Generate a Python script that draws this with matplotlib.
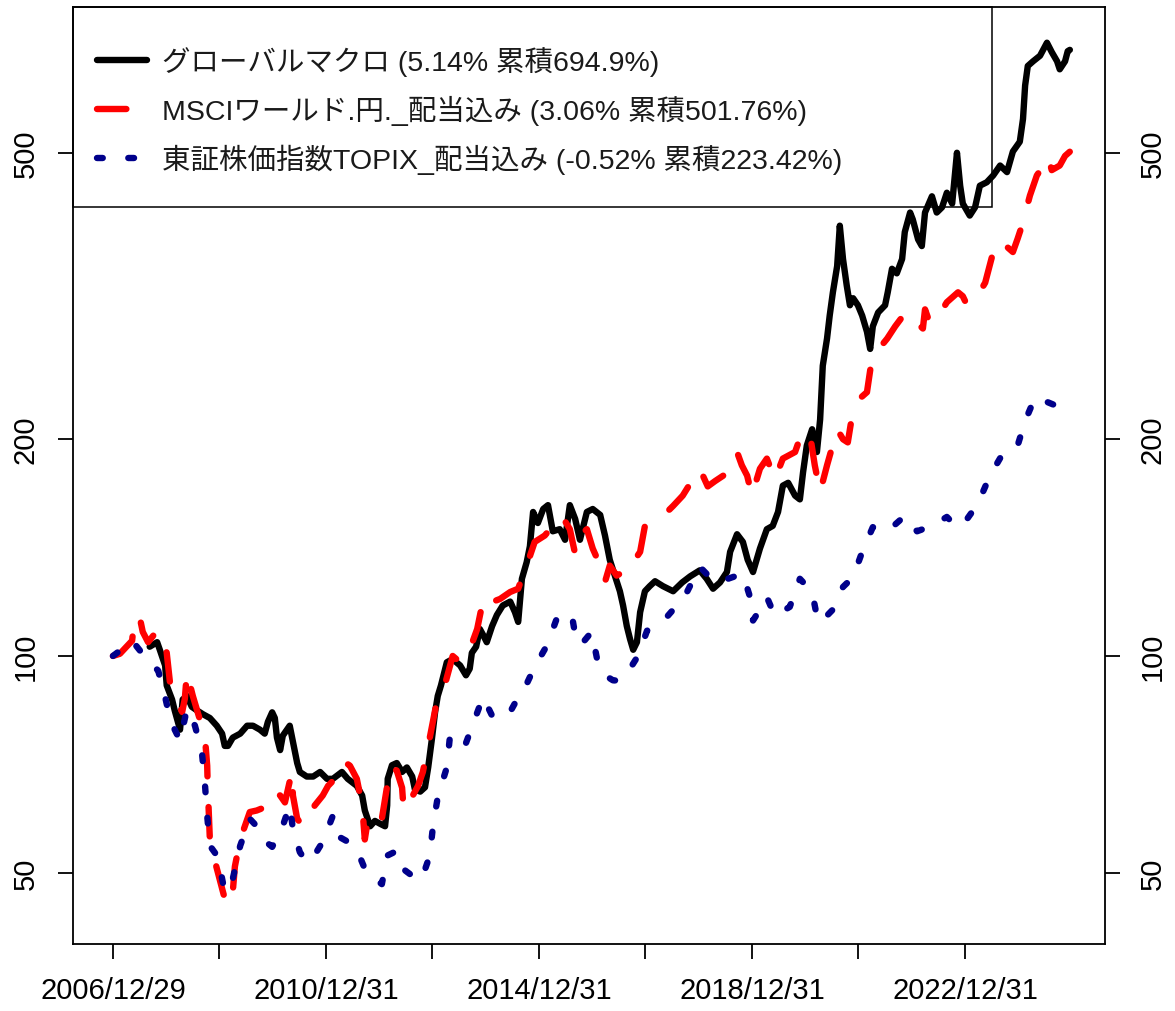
import matplotlib
matplotlib.use('Agg')
import matplotlib.pyplot as plt
from matplotlib.lines import Line2D
from matplotlib.patches import Rectangle
from matplotlib.ticker import NullLocator, NullFormatter

plt.rcParams['font.family'] = ['Liberation Sans', 'Noto Sans CJK JP', 'DejaVu Sans']

# ---------------------------------------------------------------------------
# Data (decimal years, index level with start = 100)
# ---------------------------------------------------------------------------
macro_t = [2007.69, 2007.83, 2007.88, 2007.98, 2008.01, 2008.11, 2008.16, 2008.22, 2008.26,
           2008.31, 2008.39, 2008.48, 2008.58, 2008.69, 2008.82, 2008.95, 2009.05, 2009.10,
           2009.16, 2009.25, 2009.39, 2009.52, 2009.63, 2009.76, 2009.85, 2009.91, 2009.99,
           2010.04, 2010.08, 2010.14, 2010.19, 2010.27, 2010.32, 2010.38, 2010.46, 2010.51,
           2010.64, 2010.76, 2010.89, 2011.02, 2011.13, 2011.30, 2011.41, 2011.58, 2011.68,
           2011.73, 2011.83, 2011.92, 2012.01, 2012.11, 2012.15, 2012.16, 2012.24, 2012.33,
           2012.43, 2012.52, 2012.62, 2012.67, 2012.77, 2012.86, 2012.92, 2012.99, 2013.05,
           2013.10, 2013.16, 2013.27, 2013.38, 2013.52, 2013.63, 2013.70, 2013.74, 2013.82,
           2013.89, 2013.95, 2014.02, 2014.12, 2014.21, 2014.32, 2014.46, 2014.55, 2014.61,
           2014.68, 2014.77, 2014.83, 2014.89, 2014.98, 2015.08, 2015.17, 2015.26, 2015.39,
           2015.49, 2015.58, 2015.68, 2015.77, 2015.90, 2016.01, 2016.15, 2016.24, 2016.33,
           2016.43, 2016.52, 2016.58, 2016.65, 2016.71, 2016.77, 2016.84, 2016.90, 2016.99,
           2017.08, 2017.18, 2017.33, 2017.52, 2017.69, 2017.84, 2018.02, 2018.15, 2018.27,
           2018.40, 2018.53, 2018.59, 2018.72, 2018.83, 2018.92, 2019.02, 2019.15, 2019.28,
           2019.39, 2019.49, 2019.58, 2019.68, 2019.81, 2019.90, 2019.96, 2020.03, 2020.13,
           2020.22, 2020.28, 2020.33, 2020.41, 2020.46, 2020.52, 2020.60, 2020.65, 2020.71,
           2020.78, 2020.84, 2020.90, 2020.99, 2021.07, 2021.16, 2021.22, 2021.27, 2021.37,
           2021.50, 2021.55, 2021.63, 2021.72, 2021.82, 2021.87, 2021.97, 2022.02, 2022.12,
           2022.19, 2022.25, 2022.38, 2022.47, 2022.57, 2022.66, 2022.76, 2022.85, 2022.91,
           2022.96, 2023.09, 2023.19, 2023.28, 2023.41, 2023.53, 2023.66, 2023.79, 2023.90,
           2024.03, 2024.09, 2024.13, 2024.18, 2024.28, 2024.41, 2024.54, 2024.63, 2024.73,
           2024.78, 2024.88, 2024.93, 2024.97]
macro_v = [103, 104.5, 102, 97, 91, 87, 84, 81, 79,
           87, 88, 85, 84, 83, 82, 80, 78, 75,
           75, 77, 78, 80, 80, 79, 78, 81, 83.5,
           82, 77, 74, 77.5, 79, 80, 76, 71, 69,
           68, 68, 69, 67.5, 67.5, 69, 67.5, 66, 64,
           61, 58, 59, 58.5, 58, 62, 67.5, 70.5, 71,
           69, 70, 68, 65.3, 64.8, 65.7, 70, 76.7, 83.6,
           88, 91, 98, 99, 97, 94, 96, 101, 103,
           109, 107, 104.5, 110, 114, 117.5, 119, 115, 111.5,
           128, 135, 142, 158.5, 153, 160, 162, 149, 150,
           145, 162, 155, 145, 158.5, 160, 157, 147, 136,
           129, 123, 117.5, 110, 105.6, 102, 104.5, 115, 123,
           125, 127, 125, 123, 126.5, 129, 131.5, 128, 124,
           126.5, 130.8, 139.5, 147.6, 144, 136, 130.8, 141, 150,
           151.6, 158.5, 172.4, 174, 167, 165, 180, 196, 206.5,
           192, 213, 253, 276, 297, 320, 348, 396, 356,
           327, 307, 314, 307, 297, 282, 267, 287, 300,
           307, 320, 345, 340, 356, 388, 413, 404, 379,
           371, 413, 435, 413, 420, 440, 425, 500, 450,
           425, 409, 420, 450, 455, 465, 480, 470, 502,
           518, 557, 620, 660, 670, 682, 711, 690, 670,
           653, 670, 692, 694.9]

msci_t = [2007.00, 2007.13, 2007.36, 2007.41, 2007.51, 2007.56, 2007.66, 2007.83, 2007.92,
          2008.01, 2008.07, 2008.20, 2008.30, 2008.35, 2008.39, 2008.45, 2008.50, 2008.63,
          2008.73, 2008.77, 2008.78, 2008.80, 2008.82, 2008.92, 2009.10, 2009.16, 2009.25,
          2009.29, 2009.39, 2009.57, 2009.70, 2009.82, 2010.00, 2010.14, 2010.23, 2010.36,
          2010.38, 2010.46, 2010.57, 2010.66, 2010.79, 2010.94, 2011.04, 2011.21, 2011.32,
          2011.45, 2011.58, 2011.68, 2011.73, 2011.79, 2011.92, 2012.05, 2012.15, 2012.20,
          2012.33, 2012.43, 2012.46, 2012.58, 2012.73, 2012.82, 2012.95, 2013.08, 2013.23,
          2013.38, 2013.52, 2013.61, 2013.74, 2013.84, 2013.93, 2014.02, 2014.14, 2014.27,
          2014.46, 2014.61, 2014.74, 2014.83, 2014.92, 2015.11, 2015.26, 2015.43, 2015.58,
          2015.68, 2015.77, 2015.90, 2016.01, 2016.18, 2016.24, 2016.33, 2016.46, 2016.58,
          2016.65, 2016.77, 2016.90, 2016.99, 2017.18, 2017.33, 2017.52, 2017.70, 2017.87,
          2018.02, 2018.17, 2018.31, 2018.46, 2018.59, 2018.72, 2018.81, 2018.91, 2019.00,
          2019.08, 2019.15, 2019.28, 2019.43, 2019.58, 2019.81, 2019.94, 2020.09, 2020.18,
          2020.28, 2020.41, 2020.60, 2020.71, 2020.80, 2020.90, 2021.03, 2021.16, 2021.25,
          2021.40, 2021.54, 2021.69, 2021.84, 2021.97, 2022.10, 2022.21, 2022.25, 2022.34,
          2022.47, 2022.66, 2022.87, 2022.96, 2023.04, 2023.23, 2023.38, 2023.47, 2023.56,
          2023.66, 2023.79, 2023.90, 2023.99, 2024.07, 2024.22, 2024.35, 2024.45, 2024.56,
          2024.63, 2024.78, 2024.88, 2024.97]
msci_v = [100, 100.7, 105, 113.7, 112.5, 108, 104.5, 108.4, 107,
          101, 92, 86.3, 83.6, 87.2, 95, 91, 88, 81.7,
          76.7, 70.4, 66, 60.7, 55.6, 51.7, 46, 45, 47,
          51, 55.6, 60.7, 61, 61.5, 65, 64, 62.6, 69,
          64, 59.4, 58, 59.4, 62, 64, 66, 68, 71.5,
          70.4, 67.5, 62, 55.6, 59.4, 60.7, 59.4, 66, 70.4,
          69.3, 65.6, 61, 63, 66, 69, 77, 86.3, 91,
          100, 98, 100, 104, 109, 117.5, 115, 119, 120,
          122.7, 124, 132, 137.6, 144, 147, 151.6, 156.5, 150,
          138.6, 147, 150, 141, 132, 126.7, 133.5, 129.3, 130.8,
          130, 135, 139.5, 151.6, 155, 156.5, 161.6, 167, 175,
          182, 172, 175, 178, 186, 192, 184, 178, 167,
          175, 182, 188, 176, 188, 192, 204.5, 203, 184,
          169, 184, 206.5, 200, 198, 220, 228, 232.5, 258,
          268, 276, 287, 297, 300, 290, 285, 303, 290,
          294, 310, 320, 316, 307, 316, 330, 350, 371,
          378, 370, 364, 380, 396, 436, 465, 477, 494,
          473, 480, 495, 501.76]

topix_t = [2007.00, 2007.13, 2007.36, 2007.45, 2007.56, 2007.69, 2007.85, 2007.98, 2008.07,
           2008.16, 2008.26, 2008.39, 2008.54, 2008.67, 2008.73, 2008.77, 2008.82, 2008.97,
           2009.07, 2009.16, 2009.25, 2009.39, 2009.57, 2009.70, 2009.82, 2009.99, 2010.17,
           2010.32, 2010.38, 2010.51, 2010.64, 2010.76, 2010.94, 2011.13, 2011.26, 2011.45,
           2011.60, 2011.77, 2011.92, 2012.05, 2012.15, 2012.33, 2012.48, 2012.62, 2012.71,
           2012.86, 2012.95, 2013.01, 2013.10, 2013.27, 2013.33, 2013.48, 2013.61, 2013.76,
           2013.95, 2014.12, 2014.27, 2014.42, 2014.55, 2014.68, 2014.92, 2015.15, 2015.34,
           2015.49, 2015.62, 2015.71, 2015.83, 2015.99, 2016.11, 2016.24, 2016.39, 2016.52,
           2016.67, 2016.86, 2017.03, 2017.18, 2017.42, 2017.61, 2017.78, 2018.02, 2018.15,
           2018.31, 2018.55, 2018.72, 2018.83, 2018.96, 2019.02, 2019.15, 2019.28, 2019.43,
           2019.71, 2019.90, 2020.13, 2020.24, 2020.37, 2020.52, 2020.71, 2020.90, 2021.07,
           2021.27, 2021.44, 2021.59, 2021.87, 2022.10, 2022.38, 2022.66, 2022.85, 2023.00,
           2023.24, 2023.47, 2023.71, 2023.98, 2024.13, 2024.32, 2024.50, 2024.69, 2024.97]
topix_v = [100, 101.7, 105, 103, 100.6, 98, 95.4, 87.7, 82,
           79, 76.3, 84.4, 80, 73.6, 66, 60, 54.5, 52.6,
           48.2, 47, 49, 54.5, 59.4, 58, 55.6, 54.3, 57.5,
           62, 57.5, 53.4, 51.7, 52.5, 55.2, 60, 56, 55,
           53.4, 49.8, 49, 48.2, 52.8, 53.6, 50.4, 49.5, 48.7,
           50.5, 52.8, 58, 63.7, 70, 77.5, 76, 75, 80.4,
           87.7, 82.6, 82, 82.6, 86, 88.5, 96.6, 103.4, 113,
           112, 113.7, 104, 104.5, 108, 97.5, 94, 92.5, 92.4,
           95, 100, 108.4, 110, 113.7, 118, 122.7, 133, 130,
           126.7, 128, 129.3, 130, 121, 112, 116, 120.7, 113.7,
           117, 128, 122.7, 111.5, 113, 116, 124.7, 128.7, 139.5,
           151, 149, 150, 156.5, 149, 151.6, 156, 151, 153.5,
           162.6, 178, 191, 195, 212, 229, 226, 223, 223.42]

labels = ['グローバルマクロ (5.14% 累積694.9%)',
          'MSCIワールド.円._配当込み (3.06% 累積501.76%)',
          '東証株価指数TOPIX_配当込み (-0.52% 累積223.42%)']

x_ticks = [2007, 2009, 2011, 2013, 2015, 2017, 2019, 2021, 2023]
x_labels = ['2006/12/29', '', '2010/12/31', '', '2014/12/31', '', '2018/12/31', '', '2022/12/31']
y_ticks = [50, 100, 200, 500]

# ---------------------------------------------------------------------------
# Styles
# ---------------------------------------------------------------------------
LW = 4.6
BLACK = '#000000'
RED = '#FF0000'
NAVY = '#00008B'
RED_DASH = (4.6, 4.8)
NAVY_DOT = (0.9, 4.0)

fig = plt.figure(figsize=(11.75, 10.12), dpi=100)
ax = fig.add_axes([73 / 1175, 1 - 945 / 1012, 1032 / 1175, 937 / 1012])

ax.plot(macro_t, macro_v, color=BLACK, lw=LW, solid_joinstyle='round',
        solid_capstyle='round')
ax.plot(msci_t, msci_v, color=RED, lw=LW, dashes=RED_DASH,
        dash_capstyle='round', dash_joinstyle='round')
ax.plot(topix_t, topix_v, color=NAVY, lw=LW, dashes=NAVY_DOT,
        dash_capstyle='round', dash_joinstyle='round')

ax.set_yscale('log')
ax.set_xlim(2006.25, 2025.63)
ax.set_ylim(39.8, 797)

ax.set_xticks(x_ticks)
ax.set_xticklabels(x_labels, fontsize=21)
ax.xaxis.set_minor_locator(NullLocator())

ax.yaxis.set_minor_locator(NullLocator())
ax.yaxis.set_minor_formatter(NullFormatter())
ax.set_yticks(y_ticks)
ax.set_yticklabels([str(v) for v in y_ticks])
ax.tick_params(axis='both', direction='out', length=11, width=1.3, colors='black')
ax.tick_params(axis='x', pad=12)
ax.tick_params(axis='y', right=True, labelright=True, labelrotation=90,
               labelsize=21, pad=13)
for t in ax.yaxis.get_major_ticks():
    t.label1.set_va('center')
    t.label2.set_va('center')

for s in ax.spines.values():
    s.set_linewidth(1.3)

# legend: open box in the upper left, lines show through it
box = Rectangle((0, 1 - 200 / 937), (992 - 73) / 1032, 200 / 937,
                transform=ax.transAxes, fill=False, edgecolor='black',
                linewidth=1.1, zorder=5, clip_on=False)
ax.add_patch(box)

h1 = Line2D([], [], color=BLACK, lw=LW, solid_capstyle='round')
h2 = Line2D([], [], color=RED, lw=LW, dashes=RED_DASH, dash_capstyle='round')
h3 = Line2D([], [], color=NAVY, lw=LW, dashes=NAVY_DOT, dash_capstyle='round')
leg = ax.legend([h1, h2, h3], labels, loc='upper left',
                bbox_to_anchor=((97 - 73) / 1032, 1 - 39 / 937),
                frameon=False, fontsize=20.5, handlelength=1.75,
                handletextpad=0.55, labelspacing=0.66, borderpad=0,
                borderaxespad=0)
for txt in leg.get_texts():
    txt.set_color('#1a1a1a')

fig.savefig('out.png', dpi=100, facecolor='white')
